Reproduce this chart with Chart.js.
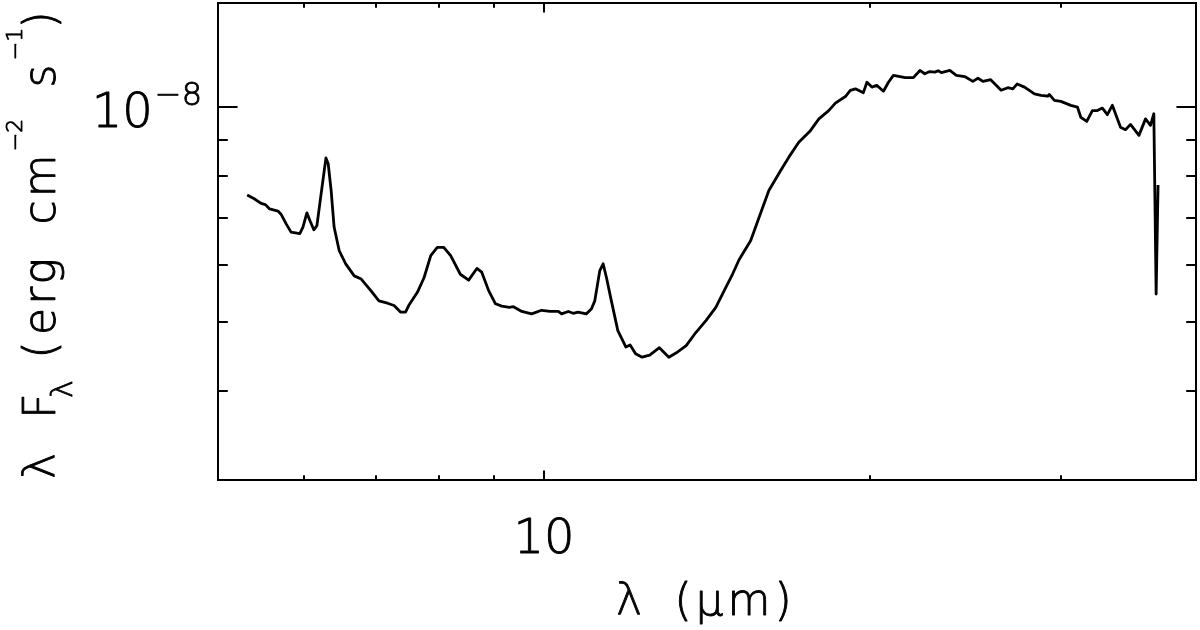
<!DOCTYPE html>
<html>
<head>
<meta charset="utf-8">
<script src="https://cdn.jsdelivr.net/npm/chart.js@4/dist/chart.umd.min.js"></script>
<style>
  html, body { margin: 0; padding: 0; background: #fff; }
  #wrap { width: 1200px; height: 630px; position: relative; }
</style>
</head>
<body>
<div id="wrap"><canvas id="c"></canvas></div>
<script>
// ---- data ----
const wavelength = [
  5.32,5.40,5.48,5.53,5.58,5.68,5.72,5.78,5.84,5.95,
  5.99,6.04,6.08,6.13,6.17,6.22,6.29,6.32,6.36,6.40,
  6.47,6.56,6.68,6.78,6.92,7.04,7.17,7.27,7.37,7.45,
  7.50,7.64,7.75,7.86,7.97,8.08,8.20,8.37,8.52,8.67,
  8.76,8.89,9.02,9.14,9.29,9.37,9.54,9.74,9.95,10.13,
  10.31,10.38,10.53,10.64,10.75,10.94,11.06,11.14,11.26,11.34,
  11.42,11.54,11.70,11.90,12.01,12.15,12.32,12.52,12.78,13.04,
  13.24,13.53,13.81,14.11,14.41,14.72,14.93,15.14,15.52,15.80,
  16.13,16.54,16.83,17.19,17.62,17.94,18.32,18.58,18.98,19.18,
  19.39,19.72,19.87,20.08,20.29,20.58,20.80,21.02,21.32,21.55,
  21.93,22.24,22.47,22.71,22.96,23.12,23.28,23.70,24.03,24.46,
  24.89,25.16,25.43,25.85,26.43,26.81,27.10,27.35,27.78,28.37,
  28.77,29.18,29.28,29.60,30.01,30.65,31.09,31.31,31.71,32.09,
  32.43,32.78,33.13,33.48,34.07,34.43,34.80,35.43,35.93,36.31,
  36.57,36.75,36.90
];
const lambdaFlambda = [
  7.53e-9,7.44e-9,7.33e-9,7.30e-9,7.20e-9,7.15e-9,7.07e-9,6.86e-9,6.68e-9,6.65e-9,
  6.79e-9,7.11e-9,6.93e-9,6.73e-9,6.82e-9,7.48e-9,8.49e-9,8.33e-9,7.64e-9,6.79e-9,
  6.29e-9,6.03e-9,5.80e-9,5.74e-9,5.53e-9,5.35e-9,5.31e-9,5.27e-9,5.16e-9,5.16e-9,
  5.27e-9,5.50e-9,5.77e-9,6.19e-9,6.36e-9,6.36e-9,6.19e-9,5.83e-9,5.72e-9,5.94e-9,
  5.87e-9,5.53e-9,5.30e-9,5.26e-9,5.24e-9,5.25e-9,5.17e-9,5.13e-9,5.19e-9,5.17e-9,
  5.17e-9,5.13e-9,5.17e-9,5.14e-9,5.16e-9,5.13e-9,5.21e-9,5.35e-9,5.90e-9,6.03e-9,
  5.77e-9,5.35e-9,4.86e-9,4.61e-9,4.64e-9,4.51e-9,4.46e-9,4.49e-9,4.60e-9,4.46e-9,
  4.52e-9,4.63e-9,4.83e-9,5.02e-9,5.24e-9,5.59e-9,5.83e-9,6.11e-9,6.50e-9,7.01e-9,
  7.64e-9,8.15e-9,8.51e-9,8.93e-9,9.27e-9,9.63e-9,9.89e-9,1.013e-8,1.035e-8,1.056e-8,
  1.061e-8,1.048e-8,1.084e-8,1.067e-8,1.073e-8,1.053e-8,1.084e-8,1.108e-8,1.104e-8,1.100e-8,
  1.100e-8,1.126e-8,1.114e-8,1.122e-8,1.120e-8,1.125e-8,1.118e-8,1.126e-8,1.108e-8,1.104e-8,
  1.087e-8,1.098e-8,1.087e-8,1.093e-8,1.056e-8,1.065e-8,1.061e-8,1.078e-8,1.067e-8,1.044e-8,
  1.039e-8,1.036e-8,1.042e-8,1.022e-8,1.019e-8,1.006e-8,1.000e-8,9.68e-9,9.55e-9,9.89e-9,
  9.89e-9,9.97e-9,9.76e-9,1.006e-8,9.37e-9,9.30e-9,9.46e-9,9.13e-9,9.63e-9,9.43e-9,
  9.79e-9,5.47e-9,7.78e-9
];

const xRange = [5, 40];
const yRange = [3e-9, 1.4e-8];
const xMajorTicks = [10];
const xMinorTicks = [6, 7, 8, 9, 20, 30];
const yMajorTicks = [1e-8];
const yMinorTicks = [4e-9, 5e-9, 6e-9, 7e-9, 8e-9, 9e-9];
const xTickLabels = ['10'];
const yTickLabels = [['10', '\u22128']];

const FONT = '"DejaVu Sans", "Liberation Sans", sans-serif';

const points = wavelength.map((w, i) => ({ x: w, y: lambdaFlambda[i] }));

const frameAxes = {
  id: 'frameAxes',
  afterDraw(chart) {
    const { ctx, chartArea: a, scales: { x, y } } = chart;
    ctx.save();
    ctx.strokeStyle = '#000';
    ctx.fillStyle = '#000';
    ctx.lineWidth = 2;
    ctx.lineCap = 'butt';
    ctx.strokeRect(a.left, a.top, a.right - a.left, a.bottom - a.top);

    const h = a.bottom - a.top, w = a.right - a.left;
    const xMaj = 0.02 * h, xMin = 0.01 * h;
    const yMaj = 0.02 * w, yMin = 0.01 * w;
    ctx.beginPath();
    const xt = (v, len) => {
      const px = Math.round(x.getPixelForValue(v));
      ctx.moveTo(px, a.bottom); ctx.lineTo(px, a.bottom - len);
      ctx.moveTo(px, a.top); ctx.lineTo(px, a.top + len);
    };
    const yt = (v, len) => {
      const py = Math.round(y.getPixelForValue(v));
      ctx.moveTo(a.left, py); ctx.lineTo(a.left + len, py);
      ctx.moveTo(a.right, py); ctx.lineTo(a.right - len, py);
    };
    xMajorTicks.forEach(v => xt(v, xMaj));
    xMinorTicks.forEach(v => xt(v, xMin));
    yMajorTicks.forEach(v => yt(v, yMaj));
    yMinorTicks.forEach(v => yt(v, yMin));
    ctx.stroke();

    // text helper: fill plus a thin stroke to reach the reference weight
    ctx.lineWidth = 0.9;
    ctx.lineJoin = 'round';
    const txt = (s, px, py) => { ctx.fillText(s, px, py); ctx.strokeText(s, px, py); };

    // x tick labels
    ctx.textBaseline = 'alphabetic';
    ctx.font = '300 48px ' + FONT;
    ctx.textAlign = 'center';
    xMajorTicks.forEach((v, i) => {
      txt(xTickLabels[i], x.getPixelForValue(v), a.bottom + 73);
    });

    // y tick labels with superscript exponent
    yMajorTicks.forEach((v, i) => {
      const py = y.getPixelForValue(v);
      const [base, exp] = yTickLabels[i];
      ctx.font = '300 32px ' + FONT;
      const ew = ctx.measureText(exp).width;
      const right = a.left - 16;
      ctx.textAlign = 'right';
      txt(exp, right, py - 2);
      ctx.font = '300 48px ' + FONT;
      txt(base, right - ew - 2, py + 20);
    });

    // x axis title: λ (μm)
    const cx = (a.left + a.right) / 2;
    ctx.font = '300 44px ' + FONT;
    ctx.textAlign = 'center';
    txt('\u03BB', cx - 78, a.bottom + 135);
    ctx.letterSpacing = '4px';
    txt('(\u03BCm)', cx + 28, a.bottom + 135);
    ctx.letterSpacing = '0px';

    // y axis title: λ F_λ (erg cm^-2 s^-1), rotated
    ctx.rotate(-Math.PI / 2);
    // in rotated frame: X = -pageY, Y = pageX
    const piece = (s, pageYCenter, baseX, size) => {
      ctx.font = '300 ' + size + 'px ' + FONT;
      ctx.textAlign = 'center';
      txt(s, -pageYCenter, baseX);
    };
    piece('\u03BB', 466, 55, 44);
    piece('F', 406, 55, 44);
    piece('\u03BB', 389, 72, 30);
    piece('(', 350, 55, 44);
    ctx.letterSpacing = '3px';
    piece('erg', 295, 55, 44);
    piece('cm', 188, 55, 44);
    ctx.letterSpacing = '0px';
    piece('\u22122', 135, 22, 22);
    piece('s', 76, 55, 44);
    piece('\u22121', 44, 22, 22);
    piece(')', 20, 55, 44);
    ctx.restore();
  }
};

new Chart(document.getElementById('c'), {
  type: 'line',
  data: {
    datasets: [{
      data: points,
      borderColor: '#000',
      borderWidth: 2.8,
      borderJoinStyle: 'round',
      pointRadius: 0,
      fill: false,
      tension: 0
    }]
  },
  options: {
    responsive: true,
    maintainAspectRatio: false,
    animation: false,
    layout: { padding: { left: 218, right: 4, top: 3, bottom: 150 } },
    plugins: { legend: { display: false }, tooltip: { enabled: false } },
    scales: {
      x: { type: 'logarithmic', min: xRange[0], max: xRange[1], display: false },
      y: { type: 'logarithmic', min: yRange[0], max: yRange[1], display: false }
    }
  },
  plugins: [frameAxes]
});
</script>
</body>
</html>
